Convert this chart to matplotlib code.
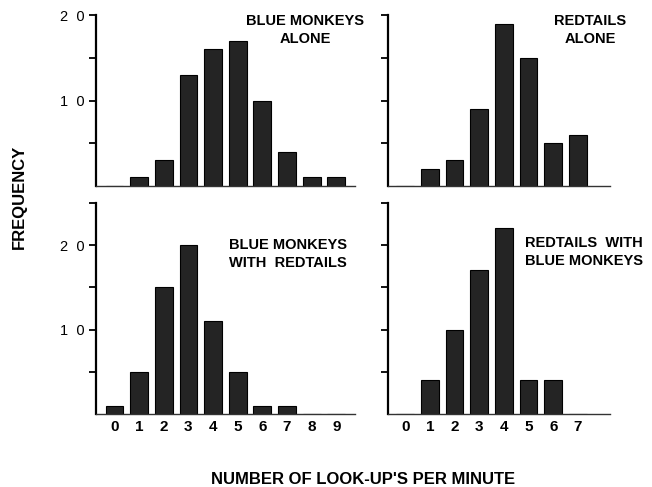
import numpy as np
import matplotlib.pyplot as plt

plt.rcParams['font.family'] = ['Liberation Sans', 'DejaVu Sans']

# look-ups per minute (x categories)
BM_BINS = [0, 1, 2, 3, 4, 5, 6, 7, 8, 9]
RT_BINS = [0, 1, 2, 3, 4, 5, 6, 7]

# frequencies
BM_ALONE = [0, 1, 3, 13, 16, 17, 10, 4, 1, 1]
RT_ALONE = [0, 2, 3, 9, 19, 15, 5, 6]
BM_WITH_RT = [1, 5, 15, 20, 11, 5, 1, 1, 0, 0]
RT_WITH_BM = [0, 4, 10, 17, 22, 4, 4, 0]

TOP_TICKS = [5, 10, 15, 20]
BOTTOM_TICKS = [5, 10, 15, 20, 25]

BAR_COLOR = '#242424'


def style_axis(ax, bins, values, ymax, yticks, xlim, show_ylabels, show_xlabels):
	ax.bar(bins, values, 0.72, color=BAR_COLOR, edgecolor='black', linewidth=0.8)
	ax.set_xlim(*xlim)
	ax.set_ylim(0, ymax)
	ax.spines['top'].set_visible(False)
	ax.spines['right'].set_visible(False)
	ax.spines['left'].set_linewidth(1.6)
	ax.spines['bottom'].set_linewidth(1.0)
	ax.spines['bottom'].set_color('#333333')
	ax.set_yticks(yticks)
	if show_ylabels:
		ax.set_yticklabels(['  '.join(str(t)) if t in (10, 20) else '' for t in yticks])
	else:
		ax.set_yticklabels([])
	ax.tick_params(axis='y', direction='out', length=5, width=1.3, labelsize=10.5, pad=3)
	ax.set_xticks(bins)
	if show_xlabels:
		ax.set_xticklabels([str(b) for b in bins], fontweight='bold', fontsize=11)
	else:
		ax.set_xticklabels([])
	ax.tick_params(axis='x', length=0, pad=4)


fig = plt.figure(figsize=(6.52, 4.87), dpi=100)

ax1 = fig.add_axes([0.1472, 0.618, 0.397, 0.351])
ax2 = fig.add_axes([0.595, 0.618, 0.3405, 0.351])
ax3 = fig.add_axes([0.1472, 0.150, 0.397, 0.4333])
ax4 = fig.add_axes([0.595, 0.150, 0.3405, 0.4333])

style_axis(ax1, BM_BINS, BM_ALONE, 20, TOP_TICKS, (-0.75, 9.75), True, False)
style_axis(ax2, RT_BINS, RT_ALONE, 20, TOP_TICKS, (-0.7, 8.3), False, False)
style_axis(ax3, BM_BINS, BM_WITH_RT, 25, BOTTOM_TICKS, (-0.75, 9.75), True, True)
style_axis(ax4, RT_BINS, RT_WITH_BM, 25, BOTTOM_TICKS, (-0.7, 8.3), False, True)

title_kw = dict(fontsize=10.5, fontweight='bold', linespacing=1.4)
fig.text(305 / 652, 1 - 30 / 487, 'BLUE MONKEYS\nALONE', ha='center', va='center', **title_kw)
fig.text(590 / 652, 1 - 30 / 487, 'REDTAILS\nALONE', ha='center', va='center', **title_kw)
fig.text(288 / 652, 1 - 254 / 487, 'BLUE MONKEYS\nWITH  REDTAILS', ha='center', va='center', **title_kw)
fig.text(525 / 652, 1 - 252 / 487, 'REDTAILS  WITH\nBLUE MONKEYS', ha='left', va='center', **title_kw)

fig.text(19 / 652, 1 - 197 / 487, 'FREQUENCY', rotation=90, ha='center', va='center',
	fontsize=12, fontweight='bold')
fig.text(363 / 652, 1 - 479 / 487, "NUMBER OF LOOK-UP'S PER MINUTE", ha='center', va='center',
	fontsize=12, fontweight='bold')

fig.savefig('out.png', dpi=100)
